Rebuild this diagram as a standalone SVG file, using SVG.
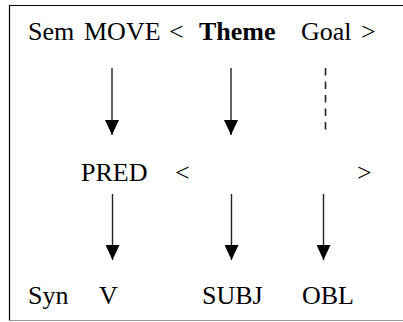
<svg xmlns="http://www.w3.org/2000/svg" width="403" height="322" viewBox="0 0 403 322">
  <defs>
    <marker id="head" viewBox="0 0 15 14" refX="15" refY="7" markerWidth="15" markerHeight="14" markerUnits="userSpaceOnUse" orient="auto">
      <path d="M0,0 L15,7 L0,14 Z" fill="#000"/>
    </marker>
  </defs>
  <style>
    .t { font-family: 'Liberation Serif', 'DejaVu Serif', serif; font-size: 26px; fill: #000; }
    .b { font-weight: bold; }
    .arrow { stroke: #222; stroke-width: 1.4; fill: none; marker-end: url(#head); }
    .dash { stroke: #222; stroke-width: 1.6; fill: none; stroke-dasharray: 7.5 6; }
  </style>
  <rect width="403" height="322" fill="#fff"/>
  <!-- frame: open on the right -->
  <path d="M403,5.5 H9.5 V320.5" fill="none" stroke="#000" stroke-width="1.2"/>
  <path d="M9.5,320.5 H403" fill="none" stroke="#999" stroke-width="1.2"/>

  <g id="row-sem" class="t">
    <text x="28" y="40">Sem</text>
    <text x="84" y="40">MOVE</text>
    <text x="169" y="40">&lt;</text>
    <text x="199" y="40" class="b">Theme</text>
    <text x="301" y="40">Goal</text>
    <text x="361" y="40">&gt;</text>
  </g>
  <g id="row-pred" class="t">
    <text x="81" y="181">PRED</text>
    <text x="175" y="181">&lt;</text>
    <text x="357" y="181">&gt;</text>
  </g>
  <g id="row-syn" class="t">
    <text x="28" y="304">Syn</text>
    <text x="99" y="304">V</text>
    <text x="202" y="304">SUBJ</text>
    <text x="302" y="304">OBL</text>
  </g>

  <g id="connectors">
    <line class="arrow" x1="112" y1="68" x2="112" y2="135"/>
    <line class="arrow" x1="231" y1="68" x2="231" y2="135"/>
    <line class="dash" x1="325.5" y1="68" x2="325.5" y2="131"/>
    <line class="arrow" x1="112.5" y1="194" x2="112.5" y2="260"/>
    <line class="arrow" x1="231.5" y1="194" x2="231.5" y2="260"/>
    <line class="arrow" x1="323.5" y1="194" x2="323.5" y2="260"/>
  </g>
</svg>
